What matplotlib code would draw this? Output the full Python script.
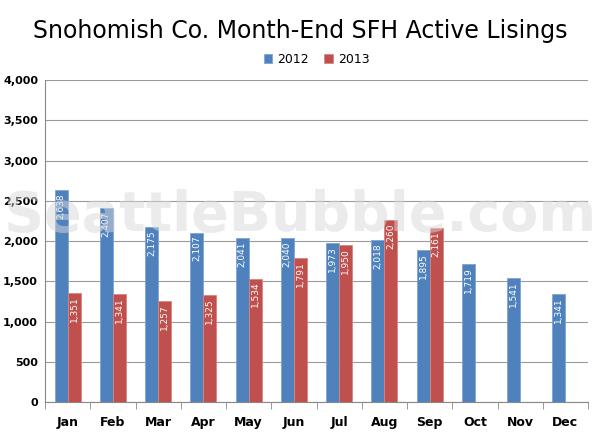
import numpy as np
import matplotlib
matplotlib.use("Agg")
from matplotlib import pyplot as plt
from matplotlib.ticker import FuncFormatter

months = ["Jan", "Feb", "Mar", "Apr", "May", "Jun", "Jul", "Aug", "Sep", "Oct", "Nov", "Dec"]
y2012 = [2638, 2407, 2175, 2107, 2041, 2040, 1973, 2018, 1895, 1719, 1541, 1341]
y2013 = [1351, 1341, 1257, 1325, 1534, 1791, 1950, 2260, 2161]

plt.rcParams["font.family"] = ["DejaVu Sans"]

blue = "#4F81BD"
red = "#C0504D"

fig = plt.figure(figsize=(6, 4.36), dpi=100)
ax = fig.add_axes([0.075, 0.078, 0.905, 0.738])

x = np.arange(len(months))
w = 0.29
b1 = ax.bar(x - w / 2, y2012, w, color=blue, edgecolor="#7FA4D4", linewidth=0.6, zorder=3)
b2 = ax.bar(x[:len(y2013)] + w / 2, y2013, w, color=red, edgecolor="#D98583", linewidth=0.6, zorder=3)

for bars, vals in ((b1, y2012), (b2, y2013)):
    for r, v in zip(bars, vals):
        ax.text(r.get_x() + r.get_width() / 2, v - 40, f"{v:,}", rotation=90,
                ha="center", va="top", color="white", fontsize=6.5, zorder=4)

# watermark
fig.text(0.5, 0.505, "SeattleBubble.com", ha="center", va="center",
         fontsize=40, fontweight="bold", color="#d9d9d9", alpha=0.5, zorder=5)

ax.set_xlim(-0.5, 11.5)
ax.set_ylim(0, 4000)
ax.set_yticks(range(0, 4001, 500))
ax.yaxis.set_major_formatter(FuncFormatter(lambda v, p: f"{int(v):,}"))
ax.set_xticks(x)
ax.set_xticklabels(months)
ax.set_xticks(np.arange(-0.5, 12, 1), minor=True)
ax.tick_params(axis="x", which="major", length=0, pad=10, labelsize=9)
ax.tick_params(axis="x", which="minor", length=5, color="#888888")
ax.tick_params(axis="y", length=0, labelsize=8, pad=5)
for lab in ax.get_xticklabels() + ax.get_yticklabels():
    lab.set_fontweight("bold")

ax.grid(axis="y", color="#9a9a9a", linewidth=0.8, zorder=0)
for s in ["top", "right"]:
    ax.spines[s].set_visible(False)
ax.spines["left"].set_color("#888888")
ax.spines["bottom"].set_color("#888888")

fig.text(0.5, 0.93, "Snohomish Co. Month-End SFH Active Lisings", ha="center", va="center",
         fontsize=17)
ax.legend([b1, b2], ["2012", "2013"], loc="center", bbox_to_anchor=(0.5, 1.065),
          ncol=2, frameon=False, fontsize=9, handlelength=0.7, handleheight=0.7,
          handletextpad=0.4, columnspacing=1.2)

fig.savefig("out.png", dpi=100)
